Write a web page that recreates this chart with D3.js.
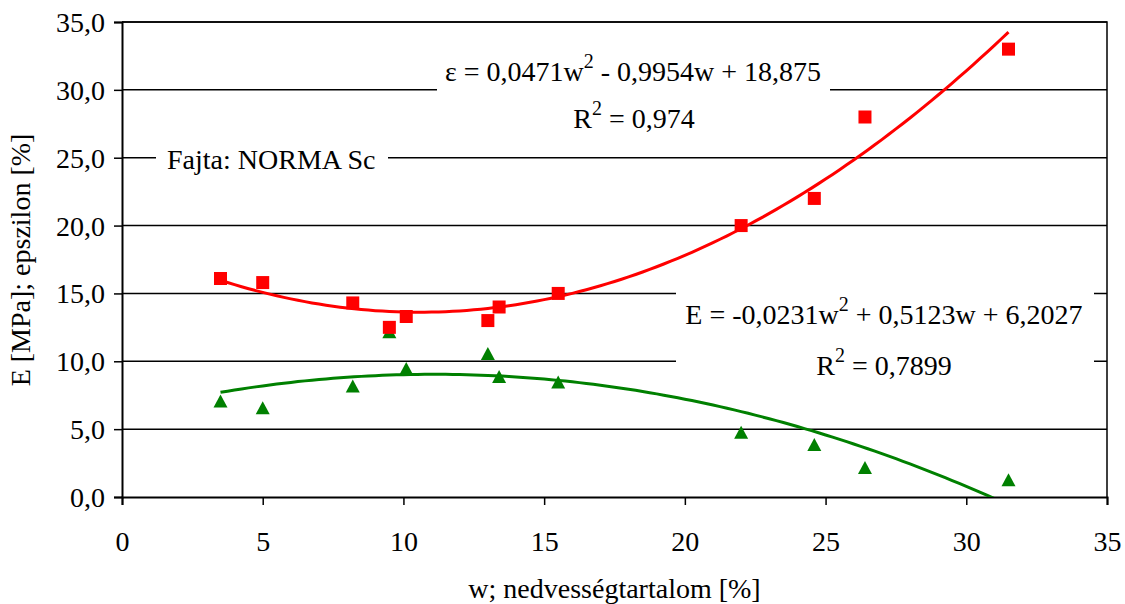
<!DOCTYPE html>
<html>
<head>
<meta charset="utf-8">
<script src="https://cdn.jsdelivr.net/npm/d3@7"></script>
</head>
<body style="margin:0;background:#fff">
<svg id="chart" width="1125" height="604" style="display:block"></svg>
<script>
const moisture = [3.5, 5, 8.2, 9.5, 10.1, 13, 13.4, 15.5, 22, 24.6, 26.4, 31.5];
const epsilonVals = [16.1, 15.8, 14.3, 12.5, 13.3, 13.0, 14.0, 15.0, 20.0, 22.0, 28.0, 33.0];
const modulusVals = [7.0, 6.5, 8.1, 12.1, 9.4, 10.5, 8.8, 8.4, 4.7, 3.8, 2.1, 1.2];
// trendline coefficients [a, b, c] shown in the chart labels
const epsFit = [0.0471, -0.9954, 18.875];
const eFit = [-0.0231, 0.5123, 6.2027];
const xTicks = [0, 5, 10, 15, 20, 25, 30, 35];
const yTicks = [0, 5, 10, 15, 20, 25, 30, 35];

const FONT = "'Liberation Serif', 'Times New Roman', 'DejaVu Serif', serif";
const svg = d3.select("#chart");
const plotL = 122, plotR = 1107, plotT = 22, plotB = 497;

const x = d3.scaleLinear().domain([0, 35]).range([plotL, plotR]);
const y = d3.scaleLinear().domain([0, 35]).range([plotB, plotT]);
const fmt = d => d3.format(".1f")(d).replace(".", ",");

// gridlines
svg.append("g")
    .selectAll("line")
    .data(yTicks.filter(d => d > 0))
    .join("line")
    .attr("x1", plotL).attr("x2", plotR)
    .attr("y1", d => y(d)).attr("y2", d => y(d))
    .attr("stroke", "#000").attr("stroke-width", 1.5);

// frame top/right
svg.append("path")
    .attr("d", `M${plotL},${plotT}H${plotR}V${plotB}`)
    .attr("fill", "none").attr("stroke", "#000").attr("stroke-width", 1.5);

// axes
const yAxis = svg.append("g")
    .attr("transform", `translate(${plotL},0)`)
    .call(d3.axisLeft(y).tickValues(yTicks).tickFormat(fmt).tickSize(8).tickPadding(9));
const xAxis = svg.append("g")
    .attr("transform", `translate(0,${plotB})`)
    .call(d3.axisBottom(x).tickValues(xTicks).tickFormat(d3.format("d")).tickSize(8).tickPadding(26));
[yAxis, xAxis].forEach(g => {
    g.attr("font-family", null).attr("font-size", null);
    g.select(".domain").attr("stroke", "#000").attr("stroke-width", 2);
    g.selectAll(".tick line").attr("stroke", "#000").attr("stroke-width", 1.5);
    g.selectAll(".tick text")
        .style("font-family", FONT)
        .style("font-size", "28px").attr("fill", "#000");
});
yAxis.selectAll(".tick text").attr("dy", "0.34em");

function addText(tx, ty, str, anchor, size) {
    return svg.append("text")
        .attr("x", tx).attr("y", ty)
        .attr("text-anchor", anchor || "start")
        .style("font-family", FONT).style("font-size", (size || 28) + "px")
        .style("white-space", "pre")
        .attr("fill", "#000")
        .text(str);
}

// text with a raised "2": pieces laid out one after the other, centred on cx
function supText(cx, ty, before, after) {
    const a = addText(0, ty, before);
    const s = addText(0, ty - 13, "2", "start", 20);
    const b = addText(0, ty, after.replace(/^ /, "\u00a0"));
    const wa = a.node().getComputedTextLength();
    const ws = s.node().getComputedTextLength();
    const wb = b.node().getComputedTextLength();
    const x0 = cx - (wa + ws + wb) / 2;
    a.attr("x", x0);
    s.attr("x", x0 + wa);
    b.attr("x", x0 + wa + ws);
}

// axis titles
addText((plotL + plotR) / 2, 598, "w; nedvességtartalom [%]", "middle");
addText(0, 0, "E [MPa]; epszilon [%]", "middle")
    .attr("transform", "translate(30,260) rotate(-90)");

// labels with white boxes (they hide the gridlines)
function box(x0, y0, w, h) {
    svg.append("rect").attr("x", x0).attr("y", y0).attr("width", w).attr("height", h).attr("fill", "#fff");
}
box(156, 140, 232, 36);
box(437, 48, 393, 90);
box(676, 282, 418, 106);

addText(167, 169, "Fajta: NORMA Sc");
supText(633, 81, "\u03b5 = 0,0471w", " - 0,9954w + 18,875");
supText(634, 128, "R", " = 0,974");
supText(884, 324, "E = -0,0231w", " + 0,5123w + 6,2027");
supText(884, 375, "R", " = 0,7899");

// trendlines, clipped to the plot area
svg.append("clipPath").attr("id", "plotclip")
    .append("rect").attr("x", plotL).attr("y", plotT).attr("width", plotR - plotL).attr("height", plotB - plotT);
const wRange = d3.range(3.5, 31.5001, 0.25);
const poly = c => w => c[0] * w * w + c[1] * w + c[2];
const line = d3.line().x(d => x(d[0])).y(d => y(d[1]));
svg.append("path")
    .attr("clip-path", "url(#plotclip)")
    .attr("d", line(wRange.map(w => [w, poly(eFit)(w)])))
    .attr("fill", "none").attr("stroke", "#008000").attr("stroke-width", 3);
svg.append("path")
    .attr("clip-path", "url(#plotclip)")
    .attr("d", line(wRange.map(w => [w, poly(epsFit)(w)])))
    .attr("fill", "none").attr("stroke", "#ff0000").attr("stroke-width", 3);

// markers
svg.append("g").selectAll("path")
    .data(moisture.map((w, i) => [w, modulusVals[i]]))
    .join("path")
    .attr("transform", d => `translate(${x(d[0])},${y(d[1])})`)
    .attr("d", "M0,-7.5L7,5.5L-7,5.5Z")
    .attr("fill", "#008000");
svg.append("g").selectAll("rect")
    .data(moisture.map((w, i) => [w, epsilonVals[i]]))
    .join("rect")
    .attr("x", d => x(d[0]) - 6.5).attr("y", d => y(d[1]) - 6.5)
    .attr("width", 13).attr("height", 13)
    .attr("fill", "#ff0000");
</script>
</body>
</html>
